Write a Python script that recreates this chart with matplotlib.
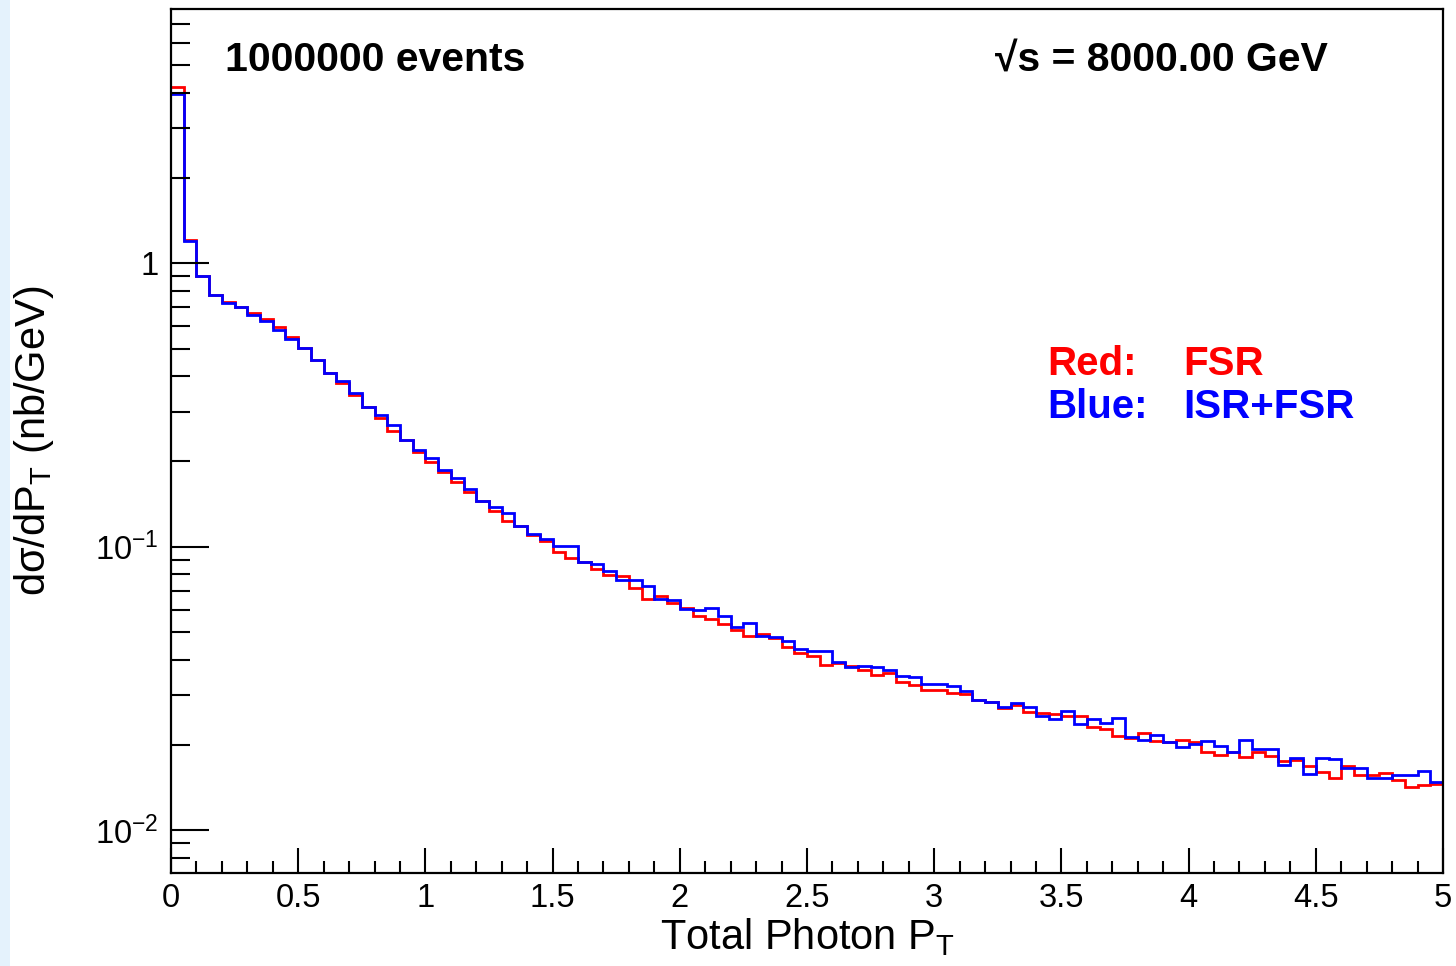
import numpy as np
import matplotlib
matplotlib.use("Agg")
import matplotlib.pyplot as plt
from matplotlib.ticker import FixedLocator, LogLocator, NullFormatter, MultipleLocator
from matplotlib.patches import Rectangle

# Histogram binning: 100 bins on [0, 5] GeV
x_min, x_max, n_bins = 0.0, 5.0, 100

# d(sigma)/dPT in nb/GeV, final-state radiation only
fsr = [
    4.19, 1.21, 0.905, 0.775, 0.730, 0.702, 0.668, 0.634, 0.594, 0.550,
    0.503, 0.455, 0.411, 0.379, 0.344, 0.311, 0.285, 0.256, 0.238, 0.2155,
    0.1986, 0.183, 0.169, 0.1555, 0.145, 0.134, 0.1234, 0.118, 0.110, 0.1046,
    0.0956, 0.0916, 0.0884, 0.0837, 0.0797, 0.0786, 0.0713, 0.0652, 0.0668, 0.0634,
    0.0610, 0.0572, 0.0557, 0.0535, 0.0508, 0.0486, 0.0494, 0.0476, 0.0442, 0.0421,
    0.0412, 0.0383, 0.0388, 0.0379, 0.0368, 0.0353, 0.0360, 0.0334, 0.0326, 0.0313,
    0.0313, 0.0306, 0.0303, 0.0288, 0.0283, 0.0270, 0.0277, 0.0262, 0.0259, 0.0257,
    0.0252, 0.0252, 0.0231, 0.0228, 0.0215, 0.0211, 0.0220, 0.0207, 0.0205, 0.0208,
    0.0205, 0.0188, 0.0184, 0.0189, 0.0181, 0.0189, 0.0183, 0.0176, 0.0177, 0.0169,
    0.0160, 0.0153, 0.0168, 0.0157, 0.0157, 0.0159, 0.0150, 0.0142, 0.0144, 0.0146,
]

# d(sigma)/dPT in nb/GeV, initial- plus final-state radiation
isr_fsr = [
    3.96, 1.20, 0.905, 0.775, 0.724, 0.702, 0.655, 0.628, 0.584, 0.540,
    0.503, 0.457, 0.411, 0.383, 0.349, 0.311, 0.292, 0.268, 0.238, 0.220,
    0.205, 0.187, 0.175, 0.160, 0.145, 0.1376, 0.132, 0.118, 0.1107, 0.1063,
    0.101, 0.1004, 0.0884, 0.0872, 0.0819, 0.0763, 0.0765, 0.0729, 0.0654, 0.0648,
    0.0604, 0.0598, 0.0606, 0.0568, 0.0520, 0.0540, 0.0486, 0.0481, 0.0464, 0.0437,
    0.0428, 0.0427, 0.0393, 0.0377, 0.0381, 0.0376, 0.0368, 0.0351, 0.0346, 0.0327,
    0.0327, 0.0323, 0.0309, 0.0288, 0.0283, 0.0272, 0.0281, 0.0272, 0.0252, 0.0246,
    0.0263, 0.0237, 0.0247, 0.0238, 0.0249, 0.0213, 0.0208, 0.0216, 0.0205, 0.0197,
    0.0201, 0.0207, 0.0198, 0.0188, 0.0208, 0.0193, 0.0194, 0.0170, 0.0179, 0.0158,
    0.0180, 0.0178, 0.0166, 0.0166, 0.0153, 0.0153, 0.0157, 0.0156, 0.0162, 0.0148,
]

x_ticks = [0, 0.5, 1, 1.5, 2, 2.5, 3, 3.5, 4, 4.5, 5]
x_tick_labels = ["0", "0.5", "1", "1.5", "2", "2.5", "3", "3.5", "4", "4.5", "5"]
y_ticks = [0.01, 0.1, 1]
y_tick_labels = [r"$\mathregular{10^{-2}}$", r"$\mathregular{10^{-1}}$", "1"]

n_events = 1000000
sqrt_s = 8000.00

plt.rcParams["font.family"] = ["Liberation Sans", "DejaVu Sans"]
plt.rcParams["mathtext.fontset"] = "custom"
plt.rcParams["mathtext.rm"] = "Liberation Sans"
plt.rcParams["mathtext.it"] = "Liberation Sans:italic"
plt.rcParams["mathtext.bf"] = "Liberation Sans:bold"

W, H = 1456, 966
fig = plt.figure(figsize=(W / 100, H / 100), dpi=100)
fig.patch.set_facecolor("white")

# light canvas strip on the left border
fig.patches.append(Rectangle((0, 0), 10 / W, 1, transform=fig.transFigure,
                             facecolor="#e4f2fc", edgecolor="none", zorder=0))

left, right, top, bottom = 171, 1443, 9, 873
ax = fig.add_axes([left / W, (H - bottom) / H, (right - left) / W, (bottom - top) / H])

edges = np.linspace(x_min, x_max, n_bins + 1)
ax.stairs(fsr, edges, baseline=None, color="#ff0000", linewidth=2.0)
ax.stairs(isr_fsr, edges, baseline=None, color="#0000ff", linewidth=2.0)

ax.set_yscale("log")
ax.set_xlim(x_min, x_max)
ax.set_ylim(0.00706, 7.9)

ax.xaxis.set_major_locator(FixedLocator(x_ticks))
ax.set_xticklabels(x_tick_labels)
ax.xaxis.set_minor_locator(MultipleLocator(0.1))

ax.yaxis.set_major_locator(FixedLocator(y_ticks))
ax.set_yticklabels(y_tick_labels)
ax.yaxis.set_minor_locator(LogLocator(base=10, subs=np.arange(2, 10), numticks=20))
ax.yaxis.set_minor_formatter(NullFormatter())

ax.tick_params(axis="x", which="major", direction="in", length=18, width=1.5,
               labelsize=23.5, pad=7, top=False)
ax.tick_params(axis="x", which="minor", direction="in", length=9, width=1.5, top=False)
ax.tick_params(axis="y", which="major", direction="in", length=27, width=1.5,
               labelsize=23.5, pad=9, right=False)
ax.tick_params(axis="y", which="minor", direction="in", length=14, width=1.5, right=False)
for lbl in ax.get_yticklabels():
    lbl.set_va("center_baseline")

for sp in ax.spines.values():
    sp.set_linewidth(1.6)

ax.set_xlabel(r"Total Photon P$_\mathregular{T}$", fontsize=30, labelpad=2)
ax.set_ylabel(r"d$\mathregular{\sigma}$/dP$_\mathregular{T}$ (nb/GeV)", fontsize=30)
ax.yaxis.set_label_coords(-0.0905, 0.5)

fig.text(225 / W, (H - 71) / H, f"{n_events} events", fontsize=29.5,
         fontweight="bold", ha="left", va="baseline")
fig.text(1328 / W, (H - 71) / H, f"\u221as = {sqrt_s:.2f} GeV", fontsize=29.5,
         fontweight="bold", ha="right", va="baseline")

fig.text(1047 / W, (H - 375) / H, "Red:", fontsize=29, fontweight="bold",
         color="#ff0000", ha="left", va="baseline")
fig.text(1183 / W, (H - 375) / H, "FSR", fontsize=29, fontweight="bold",
         color="#ff0000", ha="left", va="baseline")
fig.text(1047 / W, (H - 418) / H, "Blue:", fontsize=29, fontweight="bold",
         color="#0000ff", ha="left", va="baseline")
fig.text(1183 / W, (H - 418) / H, "ISR+FSR", fontsize=29, fontweight="bold",
         color="#0000ff", ha="left", va="baseline")

fig.savefig("out.png", dpi=100)
